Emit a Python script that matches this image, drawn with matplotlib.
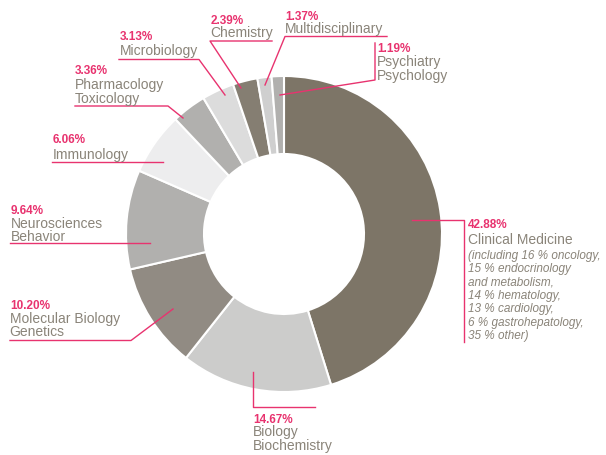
import matplotlib.pyplot as plt

plt.rcParams['font.family'] = ['Liberation Sans', 'DejaVu Sans']

categories = ['Clinical Medicine', 'Biology\nBiochemistry', 'Molecular Biology\nGenetics',
              'Neurosciences\nBehavior', 'Immunology', 'Pharmacology\nToxicology',
              'Microbiology', 'Chemistry', 'Multidisciplinary', 'Psychiatry\nPsychology']
shares = [42.88, 14.67, 10.20, 9.64, 6.06, 3.36, 3.13, 2.39, 1.37, 1.19]
pct_labels = ['42.88%', '14.67%', '10.20%', '9.64%', '6.06%', '3.36%', '3.13%', '2.39%', '1.37%', '1.19%']
colors = ['#7d7567', '#cccccb', '#918b83', '#b1b0ae', '#ededee',
          '#b1b0ae', '#dcdcdc', '#857e72', '#cfcfcf', '#b1b0ae']
clinical_note = ('(including 16 % oncology,\n15 % endocrinology\nand metabolism,\n'
                 '14 % hematology,\n13 % cardiology,\n6 % gastrohepatology,\n35 % other)')

W, H = 606, 455
PINK = '#e8336f'
GREY = '#8a8479'


def P(x, y):
    return x, H - y


fig = plt.figure(figsize=(6.06, 4.55), dpi=100)
ax = fig.add_axes([0, 0, 1, 1])
ax.pie(shares, colors=colors, startangle=90, counterclock=False,
       radius=158, center=P(284, 234),
       wedgeprops=dict(width=78, edgecolor='white', linewidth=1.5))
ax.set_xlim(0, W)
ax.set_ylim(0, H)
ax.set_aspect('auto')
ax.axis('off')

# text x, pct top y, label top y, leader polyline (pixels from top-left)
layout = {
    0: (468, 219, 233, [(412, 219.5), (463.5, 219.5), (463.5, 342)]),
    1: (253, 414, 425, [(253, 372), (253, 407), (315, 407)]),
    2: (10, 300, 311.5, [(173, 309), (131, 340.5), (10, 340.5)]),
    3: (11, 205, 216.7, [(150, 242.5), (10, 242.5)]),
    4: (53, 134, 147.5, [(163, 162), (52, 162)]),
    5: (75, 65.5, 78, [(183, 118), (168, 106), (75, 106)]),
    6: (120, 31, 44, [(225, 95), (199, 59.5), (119, 59.5)]),
    7: (210.5, 14.5, 26.2, [(241, 88), (210, 41), (272, 41)]),
    8: (285.5, 10.5, 22, [(265, 85), (285, 36.5), (387, 36.5)]),
    9: (377.5, 42.5, 55, [(280, 95), (375, 80), (375, 43)]),
}

for i, (tx, py, ly, pts) in layout.items():
    xs = [p[0] for p in pts]
    ys = [H - p[1] for p in pts]
    ax.plot(xs, ys, color=PINK, lw=1)
    ax.text(*P(tx, py), pct_labels[i], color=PINK, fontsize=8.5, fontweight='bold',
            va='top', ha='left')
    ax.text(*P(tx - 0.5, ly), categories[i], color=GREY, fontsize=10,
            va='top', ha='left', linespacing=0.97)

ax.text(*P(467.5, 250), clinical_note, color=GREY, fontsize=8.5, style='italic',
        va='top', ha='left', linespacing=1.15)

fig.savefig('out.png', dpi=100)
